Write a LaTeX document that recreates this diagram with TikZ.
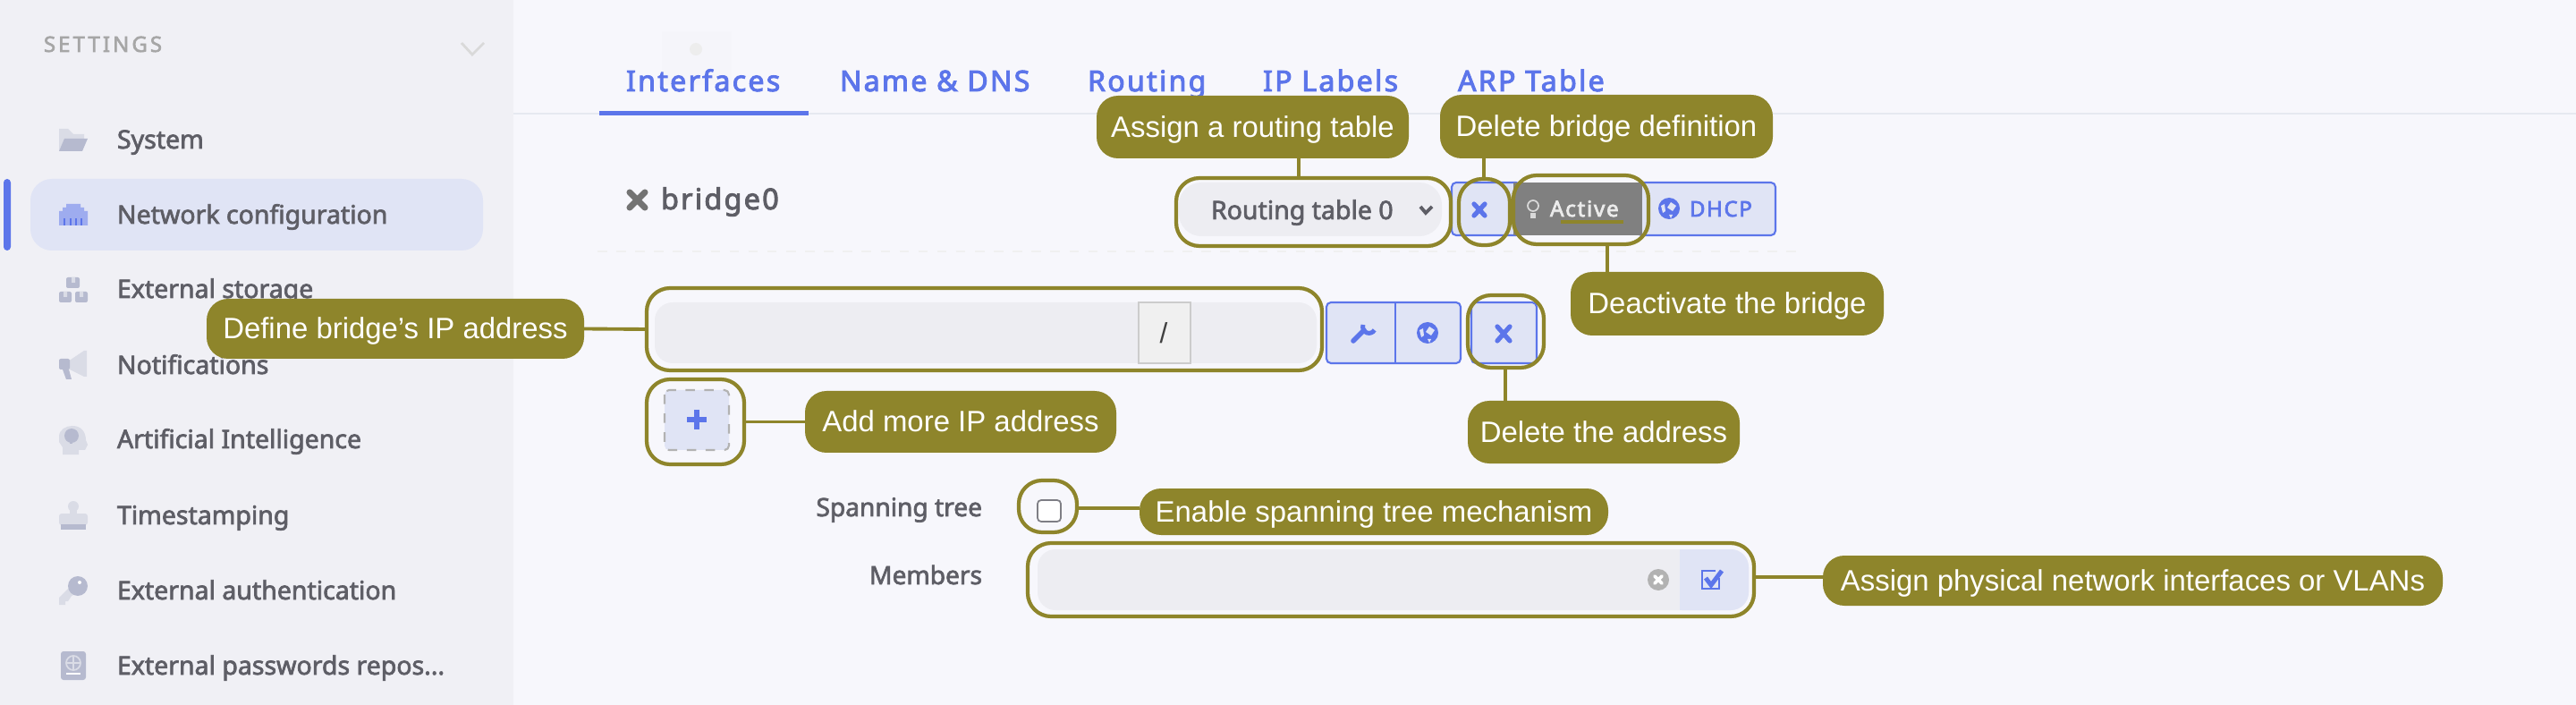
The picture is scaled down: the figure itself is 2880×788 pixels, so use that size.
\documentclass[tikz,border=0pt]{standalone}
\usepackage{fontspec}
\setmainfont{Liberation Sans}
\newfontfamily\uifont[FakeBold=2.5]{Noto Sans}
\newfontfamily\uiwide[FakeBold=3,LetterSpace=7]{Noto Sans}
\newfontfamily\uicaps[FakeBold=2.5,LetterSpace=13]{Noto Sans}
\definecolor{olive}{RGB}{142,133,43}
\definecolor{paper}{RGB}{247,247,252}
\definecolor{sidebar}{RGB}{240,240,245}
\definecolor{pill}{RGB}{224,228,245}
\definecolor{accent}{RGB}{92,117,234}
\definecolor{ink}{RGB}{94,94,102}
\definecolor{field}{RGB}{237,237,242}
\definecolor{rule}{RGB}{230,233,240}
\definecolor{iconDark}{RGB}{182,186,207}
\definecolor{iconPale}{RGB}{218,220,230}
\begin{document}
\begin{tikzpicture}[x=0.01cm,y=0.01cm]
\tikzstyle{every node}+=[inner sep=0pt, outer sep=0pt]
\tikzstyle{wh}=[minimum width=#1*0.01cm]
\tikzstyle{ht}=[minimum height=#1*0.01cm]
\tikzstyle{tip}=[fill=olive, rounded corners=0.24cm, text=white, text height=0.22cm, text depth=0pt, font=\fontsize{9.36pt}{11pt}\selectfont]
\tikzstyle{ring}=[draw=olive, line width=1.2pt, rounded corners=0.26cm]
\tikzstyle{link}=[draw=olive, line width=1.1pt]
\tikzstyle{menu}=[anchor=base west, text=ink, font=\uifont\fontsize{8.1pt}{10pt}\selectfont]
\tikzstyle{tab}=[anchor=base west, text=accent, font=\uiwide\fontsize{9.15pt}{11pt}\selectfont]
\tikzstyle{caption}=[anchor=base east, text=ink, font=\uifont\fontsize{8pt}{10pt}\selectfont]
\tikzstyle{button}=[draw=accent, fill=pill, line width=0.6pt, rounded corners=0.05cm]
\tikzstyle{cross}=[line width=1.5pt, line cap=round, accent]
\useasboundingbox (0,0) rectangle (2880,-788);
\fill [paper] (0,0) rectangle (2880,-788);
\fill [sidebar] (0,0) rectangle (574,-788);
\fill [accent, rounded corners=0.04cm] (4,-200) rectangle (12,-280);
\fill [pill, rounded corners=0.24cm] (34,-200) rectangle (540,-280);
\node (settings) [anchor=base west, text=black!35, font=\uicaps\fontsize{6.8pt}{8pt}\selectfont] at (49,-58) {SETTINGS};
\draw [black!15, line width=0.8pt] (516,-48) -- (528,-61) -- (541,-48);
\node (menuSystem) [menu] at (131,-166) {System};
\node (menuNetwork) [menu] at (131,-250) {Network configuration};
\node (menuStorage) [menu] at (131,-333) {External storage};
\node (menuNotify) [menu] at (131,-418) {Notifications};
\node (menuAi) [menu] at (131,-501) {Artificial Intelligence};
\node (menuStamp) [menu] at (131,-586) {Timestamping};
\node (menuAuth) [menu] at (131,-670) {External authentication};
\node (menuVault) [menu] at (131,-754) {External passwords repos...};
\fill [iconPale] (66,-169) -- (66,-144) -- (76,-144) -- (82,-150) -- (94,-150) -- (94,-156) -- (72,-156) -- cycle;
\fill [iconDark] (66,-169) -- (72,-155) -- (98,-155) -- (92,-169) -- cycle;
\fill [accent!50!pill] (66,-252) -- (66,-236) -- (70,-236) -- (70,-232) -- (74,-232) -- (74,-228) -- (90,-228) -- (90,-232) -- (94,-232) -- (94,-236) -- (98,-236) -- (98,-252) -- cycle;
\draw [accent, line width=0.5pt] (72,-244) -- (72,-252) (79,-244) -- (79,-252) (85,-244) -- (85,-252) (91,-244) -- (91,-252);
\fill [iconDark, rounded corners=0.02cm] (74,-310) rectangle (89,-322);
\fill [iconDark, rounded corners=0.02cm] (66,-326) rectangle (80,-338);
\fill [iconDark, rounded corners=0.02cm] (84,-326) rectangle (98,-338);
\fill [iconPale] (80,-310) rectangle (84,-316) (71,-326) rectangle (75,-332) (89,-326) rectangle (93,-332);
\fill [iconPale] (76,-404) -- (94,-392) -- (97,-392) -- (97,-421) -- (94,-421) -- (76,-412) -- cycle;
\fill [iconDark, rounded corners=0.02cm] (66,-401) rectangle (78,-413);
\fill [iconDark] (70,-413) -- (77,-413) -- (80,-424) -- (74,-424) -- cycle;
\fill [iconPale] (70,-508) -- (70,-500) -- (66,-494) -- (66,-488) .. controls (66,-480) and (74,-476) .. (81,-476) .. controls (90,-476) and (96,-482) .. (96,-492) -- (98,-497) -- (95,-503) -- (88,-503) -- (88,-508) -- cycle;
\fill [iconDark] (80,-487) circle (8);
\fill [iconDark] (78,-490) rectangle (81,-496);
\fill [iconPale] (82,-566) circle (6);
\fill [iconPale] (78,-566) rectangle (86,-576);
\fill [iconPale, rounded corners=0.03cm] (66,-574) rectangle (98,-587);
\fill [iconDark] (68,-586) rectangle (96,-592);
\fill [iconPale] (66,-676) -- (66,-668) -- (80,-654) -- (88,-662) -- (80,-666) -- (76,-672) -- (73,-672) -- (73,-676) -- cycle;
\fill [iconDark] (87,-655) circle (11);
\fill [white] (89,-651) circle (2);
\fill [iconDark, rounded corners=0.03cm] (68,-728) rectangle (96,-760);
\draw [iconPale, line width=0.5pt] (82,-741) circle (8) (74,-741) -- (90,-741) (82,-733) -- (82,-749);
\draw [white, line width=0.6pt] (74,-753) -- (90,-753);
\fill [field!18!paper] (740,-35) rectangle (818,-95);
\fill [black!7] (778,-55) circle (7);
\draw [rule, line width=0.8pt] (574,-127) -- (2880,-127);
\fill [accent] (670,-124) rectangle (904,-129);
\node (tabIface) [tab] at (700,-102) {Interfaces};
\node (tabName) [tab] at (939,-102) {Name \& DNS};
\node (tabRouting) [tab] at (1216,-102) {Routing};
\node (tabLabels) [tab] at (1412,-102) {IP Labels};
\node (tabArp) [tab] at (1630,-102) {ARP Table};
\draw [cross, black!55, line width=2pt] (704,-215) -- (721,-232) (704,-232) -- (721,-215);
\node (bridgeName) [anchor=base west, text=ink, font=\uiwide\fontsize{9.2pt}{11pt}\selectfont] at (739,-234) {bridge0};
\draw [black!6, dashed, line width=0.5pt] (668,-281) -- (2018,-281);
\fill [field, rounded corners=0.25cm] (1318,-204) rectangle (1612,-264);
\node (routeSelect) [anchor=base west, text=ink, font=\uifont\fontsize{8.1pt}{10pt}\selectfont] at (1354,-245) {Routing table 0};
\draw [ink, line width=1.1pt] (1588,-231) -- (1594,-238) -- (1601,-231);
\draw [button] (1623,-204) rectangle (1700,-263);
\draw [button] (1830,-204) rectangle (1985,-263);
\fill [black!50] (1692,-204) rectangle (1836,-263);
\draw [cross] (1648,-228) -- (1660,-241) (1648,-241) -- (1660,-228);
\draw [white!85!black, line width=0.5pt] (1714,-230) circle (6);
\fill [white!85!black] (1711,-238) rectangle (1717,-244);
\node (activeBtn) [anchor=base west, text=white!92!black, font=\uiwide\fontsize{6.9pt}{8pt}\selectfont] at (1733,-242) {Active};
\fill [olive] (1745,-246) rectangle (1815,-250);
\fill [accent] (1866,-233) circle (12);
\fill [pill] (1868,-226) -- (1874,-230) -- (1870,-236) -- (1864,-232) -- cycle;
\fill [pill] (1857,-230) -- (1861,-228) -- (1862,-236) -- (1859,-238) -- cycle;
\fill [pill] (1866,-240) -- (1870,-240) -- (1868,-244) -- cycle;
\node (dhcpBtn) [anchor=base west, text=accent, font=\uiwide\fontsize{6.8pt}{8pt}\selectfont] at (1889,-242) {DHCP};
\fill [field, rounded corners=0.2cm] (732,-338) rectangle (1472,-406);
\draw [black!20, fill=black!6, line width=0.6pt] (1273,-338) rectangle (1331,-406);
\node (ipSlash) [text=black!75, font=\fontsize{9pt}{11pt}\selectfont] at (1301,-372) {/};
\draw [button] (1483,-338) rectangle (1633,-406);
\draw [accent, line width=0.5pt] (1560,-338) -- (1560,-406);
\draw [accent, line width=1.6pt, line cap=round] (1513,-381) -- (1525,-369);
\draw [accent, line width=1.4pt] (1524,-363) arc (160:330:7);
\fill [accent] (1596,-372) circle (12);
\fill [pill] (1598,-365) -- (1604,-369) -- (1600,-375) -- (1594,-371) -- cycle;
\fill [pill] (1587,-369) -- (1591,-367) -- (1592,-375) -- (1589,-377) -- cycle;
\fill [pill] (1596,-379) -- (1600,-379) -- (1598,-383) -- cycle;
\draw [button] (1645,-338) rectangle (1718,-406);
\draw [cross] (1674,-365) -- (1688,-381) (1674,-381) -- (1688,-365);
\draw [button, draw=black!30, dashed] (743,-436) rectangle (815,-503);
\draw [accent, line width=1.5pt] (768,-469) -- (790,-469) (779,-458) -- (779,-480);
\node (spanLabel) [caption] at (1098,-577) {Spanning tree};
\draw [ink!80, fill=white, line width=0.5pt, rounded corners=0.04cm] (1160,-559) rectangle (1186,-583);
\node (membersLabel) [caption] at (1098,-653) {Members};
\fill [field, rounded corners=0.2cm] (1160,-614) rectangle (1955,-682);
\fill [pill, rounded corners=0.2cm] (1860,-614) rectangle (1955,-682);
\fill [field] (1850,-614) rectangle (1878,-682);
\fill [black!30] (1854,-648) circle (12);
\draw [white, line width=1.1pt, line cap=round] (1850,-644) -- (1858,-652) (1850,-652) -- (1858,-644);
\draw [accent, line width=0.7pt] (1922,-646) -- (1922,-658) -- (1903,-658) -- (1903,-638) -- (1918,-638);
\draw [accent, line width=1.4pt] (1907,-646) -- (1913,-654) -- (1925,-638);
\node (ringRouting) [ring, wh=307, ht=76] at (1468.5,-237) {};
\node (ringDelete) [ring, wh=57, ht=74] at (1659.5,-237) {};
\node (ringActive) [ring, wh=151, ht=77] at (1767.5,-234.5) {};
\node (ringAddress) [ring, wh=755, ht=92] at (1100.5,-368) {};
\node (ringRemove) [ring, wh=85, ht=81] at (1683.5,-370.5) {};
\node (ringAdd) [ring, wh=109, ht=95] at (777.5,-471.5) {};
\node (ringCheck) [ring, wh=65, ht=58] at (1171.5,-566) {};
\node (ringMembers) [ring, wh=812, ht=82] at (1555,-648) {};
\node (tipRouting) [tip, wh=349, ht=70] at (1400.5,-142) {Assign a routing table};
\node (tipDelete) [tip, wh=372, ht=71] at (1796,-141.5) {Delete bridge definition};
\node (tipActive) [tip, wh=350, ht=71] at (1931,-339.5) {Deactivate the bridge};
\node (tipAddress) [tip, wh=422, ht=67] at (442,-367.5) {Define bridge’s IP address};
\node (tipRemove) [tip, wh=304, ht=70] at (1793,-483) {Delete the address};
\node (tipAdd) [tip, wh=348, ht=69] at (1074,-471.5) {Add more IP address};
\node (tipCheck) [tip, wh=524, ht=52] at (1536,-572) {Enable spanning tree mechanism};
\node (tipMembers) [tip, wh=693, ht=56] at (2384.5,-649) {Assign physical network interfaces or VLANs};
\coordinate (lnRouting) at (1452,-190);
\coordinate (lnDelete) at (1659,-190);
\coordinate (lnActive) at (1797,-290);
\coordinate (lnRemove) at (1683,-430);
\coordinate (lnCheck) at (1240,-568);
\coordinate (lnMembers) at (2000,-645);
\draw [link] (tipRouting.south -| lnRouting) -- (ringRouting.north -| lnRouting);
\draw [link] (tipDelete.south -| lnDelete) -- (ringDelete.north -| lnDelete);
\draw [link] (ringActive.south -| lnActive) -- (tipActive.north -| lnActive);
\draw [link] (ringRemove.south -| lnRemove) -- (tipRemove.north -| lnRemove);
\draw [link] (tipAddress.east) -- (ringAddress.west);
\draw [link] (ringAdd.east) -- (tipAdd.west);
\draw [link] (ringCheck.east |- lnCheck) -- (tipCheck.west |- lnCheck);
\draw [link] (ringMembers.east |- lnMembers) -- (tipMembers.west |- lnMembers);
\end{tikzpicture}
\end{document}
